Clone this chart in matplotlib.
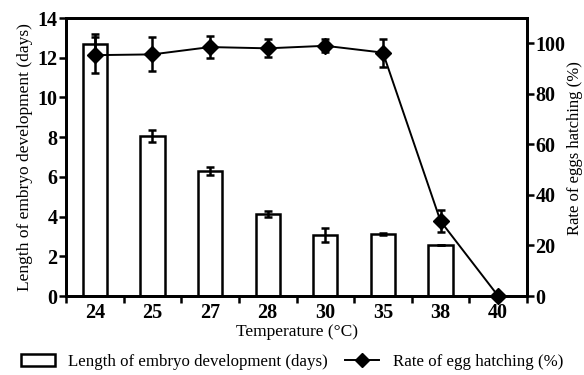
import matplotlib
matplotlib.use("Agg")
import matplotlib.pyplot as plt
import numpy as np
from matplotlib.lines import Line2D
from matplotlib.patches import Patch

plt.rcParams['font.family'] = ['Liberation Serif', 'DejaVu Serif']

# data
temps = ["24", "25", "27", "28", "30", "35", "38", "40"]
days = [12.7, 8.05, 6.3, 4.12, 3.07, 3.12, 2.55, 0.0]
days_err = [0.5, 0.3, 0.2, 0.15, 0.35, 0.07, 0.0, 0.0]
hatch = [95.3, 95.6, 98.5, 98.0, 99.0, 96.3, 29.6, 0.0]
hatch_err = [7.0, 6.7, 4.2, 3.6, 2.5, 5.5, 4.4, 0.0]

x = np.arange(len(temps))

fig = plt.figure(figsize=(5.84, 3.75), dpi=100)
ax = fig.add_axes([66/584, 1-296/375, (527-66)/584, (296-18)/375])

ax.bar(x, days, width=0.42, facecolor="white", edgecolor="black", linewidth=1.8,
       yerr=days_err, error_kw=dict(ecolor="black", elinewidth=1.8, capsize=3, capthick=1.8),
       zorder=2)
ax.set_xlim(-0.5, len(temps) - 0.5)
ax.set_ylim(0, 14)
ax.set_yticks(range(0, 15, 2))
ax.set_xticks(x)
ax.set_xticklabels(temps)
ax.set_xticks(np.arange(-0.5, len(temps), 1), minor=True)
ax.tick_params(axis="x", which="major", length=0, labelsize=14.5, pad=5)
ax.tick_params(axis="x", which="minor", length=5, width=1.8, direction="out")
ax.tick_params(axis="y", length=5, width=1.8, labelsize=14.5, pad=1)
for lab in ax.get_xticklabels() + ax.get_yticklabels():
    lab.set_fontweight("bold")
for s in ax.spines.values():
    s.set_linewidth(2)
ax.set_xlabel("Temperature (\u00b0C)", fontsize=12.5, labelpad=1)
ax.set_ylabel("Length of embryo development (days)", fontsize=12.5, labelpad=3)

ax2 = ax.twinx()
ax2.errorbar(x, hatch, yerr=hatch_err, color="black", linewidth=1.4, marker="D",
             markersize=8, ecolor="black", elinewidth=1.8, capsize=3, capthick=1.8,
             clip_on=False, zorder=3)
ax2.set_ylim(0, 110)
ax2.set_yticks(range(0, 101, 20))
ax2.tick_params(axis="y", length=5, width=1.8, labelsize=14.5, pad=1)
for lab in ax2.get_yticklabels():
    lab.set_fontweight("bold")
for s in ax2.spines.values():
    s.set_linewidth(2)
ax2.set_ylabel("Rate of eggs hatching (%)", fontsize=12)
ax2.yaxis.set_label_coords((567 - 66) / 461, (296 - 148) / 278)

handles = [Patch(facecolor="white", edgecolor="black", linewidth=1.8),
           Line2D([0], [0], color="black", marker="D", markersize=7, linewidth=1.4)]
labels = ["Length of embryo development (days)", "Rate of egg hatching (%)"]
fig.legend(handles, labels, loc="center", bbox_to_anchor=(0.5, 1-362/375), ncol=2,
           frameon=False, fontsize=12.2, handlelength=2.0, handletextpad=0.8,
           columnspacing=1.0, borderaxespad=0)

fig.savefig("out.png", dpi=100)
